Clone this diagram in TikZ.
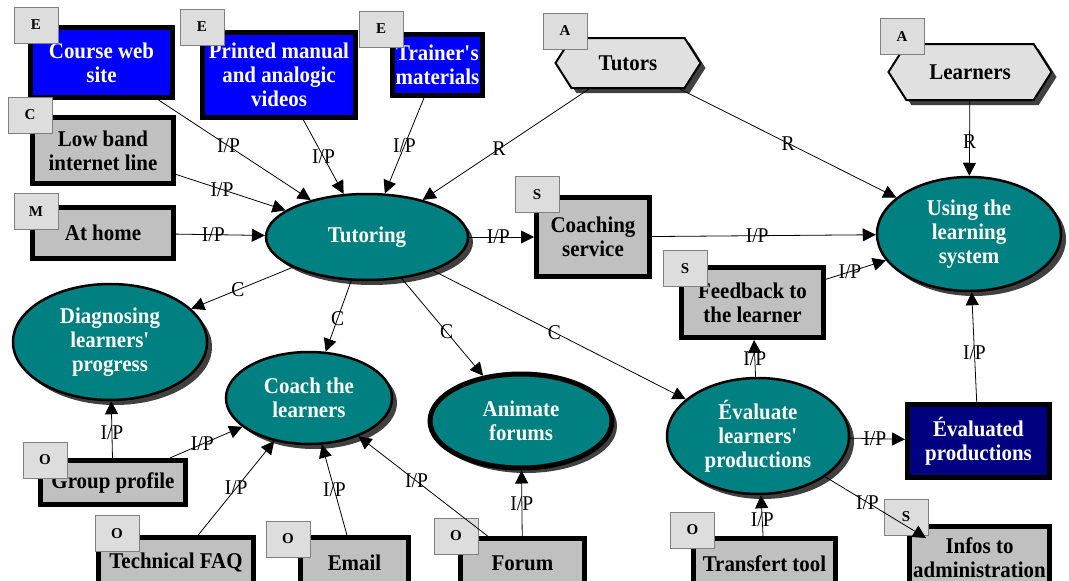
\documentclass[tikz,border=0pt]{standalone}
\usepackage{fontspec}
\setmainfont{Liberation Serif}
\newfontfamily\condfont{Liberation Serif}[FakeStretch=0.93]
\usetikzlibrary{arrows.meta,shapes.geometric,shapes.symbols,shadows}
\definecolor{cblue}{HTML}{0000FF}
\definecolor{cnavy}{HTML}{000080}
\definecolor{cteal}{HTML}{008080}
\definecolor{cgray}{HTML}{C0C0C0}
\definecolor{ctag}{HTML}{DDDDDD}
\definecolor{ctagline}{HTML}{808080}
\definecolor{cshadow}{HTML}{404040}
\definecolor{chex}{HTML}{E0E0E0}
\newcommand{\nodefont}{\condfont\bfseries\fontsize{22.5}{24}\selectfont}
\newcommand{\q}{\textquotesingle}
\begin{document}
\begin{tikzpicture}[x=1pt,y=-1pt,
  box/.style={rectangle, draw=black, line width=5pt, align=center, font=\nodefont, inner sep=1pt},
  bluebox/.style={box, fill=cblue, text=white},
  navybox/.style={box, fill=cnavy, text=white},
  graybox/.style={box, fill=cgray, text=black},
  tagbox/.style={rectangle, draw=ctagline, line width=0.8pt, fill=ctag, minimum width=44pt, minimum height=36pt, inner sep=0pt, font=\bfseries\fontsize{15}{16}\selectfont},
  shad/.style={drop shadow={shadow xshift=5pt, shadow yshift=-5pt, fill=cshadow, opacity=1}},
  proc/.style={ellipse, draw=black, line width=2.5pt, fill=cteal, text=white, align=center, font=\nodefont, inner sep=0pt, shad},
  actor/.style={signal, signal to=east and west, signal pointer angle=115, draw=black, line width=2pt, fill=chex, font=\nodefont, inner sep=0pt, shad},
  flow/.style={draw=black, line width=0.8pt, -{Triangle[length=13pt,width=13pt]}},
  lbl/.style={font=\condfont\fontsize{21}{22}\selectfont, inner sep=0pt}
]
\useasboundingbox[fill=white] (0,0) rectangle (1069,581);

% boxes
\node[bluebox, minimum width=142pt, minimum height=70pt] (cws) at (101.5,62.5) {Course web\\site};
\node[bluebox, minimum width=153pt, minimum height=85pt] (pm) at (279,75) {Printed manual\\and analogic\\videos};
\node[bluebox, minimum width=90pt, minimum height=61pt] (tr) at (437.5,65) {Trainer\q s\\materials};
\node[graybox, minimum width=141pt, minimum height=66pt] (lb) at (103,150.5) {Low band\\internet line};
\node[graybox, minimum width=141pt, minimum height=51pt] (home) at (103,233) {At home};
\node[graybox, minimum width=113pt, minimum height=79pt] (coaching) at (593,237) {Coaching\\service};
\node[graybox, minimum width=142pt, minimum height=70pt] (feedback) at (752.5,302.5) {Feedback to\\the learner};
\node[navybox, minimum width=142pt, minimum height=73pt] (evp) at (978.5,441) {Évaluated\\productions};
\node[graybox, minimum width=140pt, minimum height=63pt] (infos) at (979.5,558) {Infos to\\administration};
\node[graybox, minimum width=142pt, minimum height=51pt] (transfert) at (764.5,564) {Transfert tool};
\node[graybox, minimum width=124pt, minimum height=49pt] (forum) at (522.5,563) {Forum};
\node[graybox, minimum width=108pt, minimum height=50pt] (email) at (354.5,562.5) {Email};
\node[graybox, minimum width=155pt, minimum height=50pt] (faq) at (176,562.5) {Technical FAQ};
\node[graybox, minimum width=145pt, minimum height=44pt] (group) at (113,482.5) {Group profile};

% actors
\node[actor, minimum width=145pt, minimum height=50pt] (tutors) at (628,63) {Tutors};
\node[actor, minimum width=163pt, minimum height=56pt] (learners) at (970,72) {Learners};

% processes
\node[proc, minimum width=202pt, minimum height=86pt] (tut) at (367,237) {Tutoring};
\node[proc, minimum width=184pt, minimum height=114pt] (using) at (969,234) {Using the\\learning\\system};
\node[proc, minimum width=194pt, minimum height=116pt] (diag) at (110,342) {Diagnosing\\learners\q\\progress};
\node[proc, minimum width=166pt, minimum height=92pt] (coach) at (309,398) {Coach the\\learners};
\node[proc, line width=5pt, minimum width=182pt, minimum height=94pt] (anim) at (521,421) {Animate\\forums};
\node[proc, minimum width=182pt, minimum height=116pt] (eval) at (758,436) {Évaluate\\learners\q\\productions};

% tags
\node[tagbox] (t1) at (36,25) {E};
\node[tagbox] (t2) at (202,27) {E};
\node[tagbox] (t3) at (381,29) {E};
\node[tagbox] (t4) at (30,115) {C};
\node[tagbox] (t5) at (36,211.5) {M};
\node[tagbox] (t6) at (565,31) {A};
\node[tagbox] (t7) at (902,36.5) {A};
\node[tagbox] (t8) at (537,194.5) {S};
\node[tagbox] (t9) at (685,268.5) {S};
\node[tagbox] (t10) at (906,517) {S};
\node[tagbox] (t11) at (692.5,530) {O};
\node[tagbox] (t12) at (456,536) {O};
\node[tagbox] (t13) at (288,539) {O};
\node[tagbox] (t14) at (117,533.5) {O};
\node[tagbox] (t15) at (45,460) {O};

\coordinate (infosin) at (926,538);

% connectors
\draw[flow] (cws) -- node[lbl,pos=0.46]{I/P} (tut);
\draw[flow] (pm) -- node[lbl,pos=0.5]{I/P} (tut);
\draw[flow] (tr) -- node[lbl,pos=0.5]{I/P} (tut);
\draw[flow] (lb) -- node[lbl,pos=0.42]{I/P} (tut);
\draw[flow] (home) -- node[lbl,pos=0.42]{I/P} (tut);
\draw[flow] (tutors) -- node[lbl,pos=0.54]{R} (tut);
\draw[flow] (tutors) -- node[lbl,pos=0.5]{R} (using);
\draw[flow] (learners) -- node[lbl,pos=0.55]{R} (using);
\draw[flow] (tut) -- node[lbl,pos=0.45]{I/P} (coaching);
\draw[flow] (coaching) -- node[lbl,pos=0.47]{I/P} (using);
\draw[flow] (feedback) -- node[lbl,pos=0.4]{I/P} (using);
\draw[flow] (tut) -- node[lbl,pos=0.54]{C} (diag);
\draw[flow] (tut) -- node[lbl,pos=0.53]{C} (coach);
\draw[flow] (tut) -- node[lbl,pos=0.55]{C} (anim);
\draw[flow] (tut) -- node[lbl,pos=0.48]{C} (eval);
\draw[flow] (eval) -- node[lbl,pos=0.5]{I/P} (feedback);
\draw[flow] (evp) -- node[lbl,pos=0.45]{I/P} (using);
\draw[flow] (eval) -- node[lbl,pos=0.45]{I/P} (evp);
\draw[flow] (eval) -- node[lbl,pos=0.42]{I/P} (infosin);
\draw[flow] (transfert) -- node[lbl,pos=0.4]{I/P} (eval);
\draw[flow] (group) -- node[lbl,pos=0.45]{I/P} (diag);
\draw[flow] (group) -- node[lbl,pos=0.45]{I/P} (coach);
\draw[flow] (faq) -- node[lbl,pos=0.5]{I/P} (coach);
\draw[flow] (email) -- node[lbl,pos=0.5]{I/P} (coach);
\draw[flow] (forum) -- node[lbl,pos=0.55]{I/P} (coach);
\draw[flow] (forum) -- node[lbl,pos=0.5]{I/P} (anim);
\end{tikzpicture}
\end{document}
